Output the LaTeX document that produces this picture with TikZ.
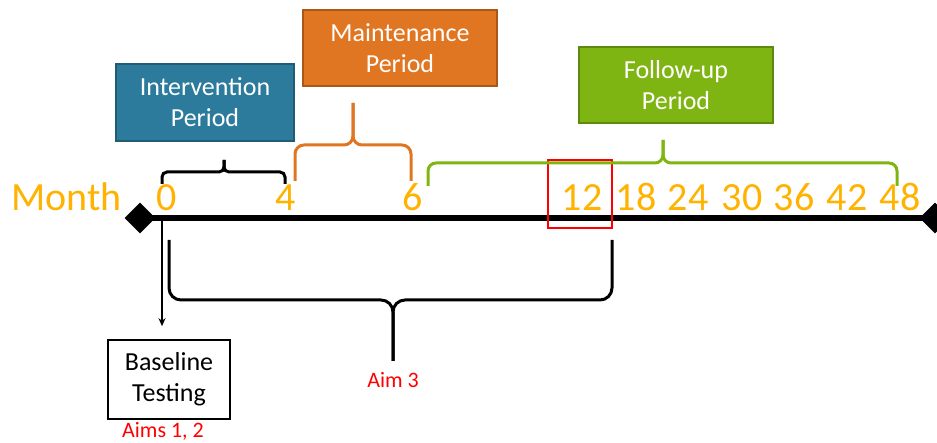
\documentclass[tikz,border=0pt]{standalone}
\usepackage{fontspec}
\setmainfont{Carlito}
\usetikzlibrary{arrows.meta,shapes.geometric}
\definecolor{ivblue}{RGB}{44,123,156}
\definecolor{mtorange}{RGB}{225,118,34}
\definecolor{fugreen}{RGB}{127,181,18}
\definecolor{monthgold}{RGB}{255,178,0}
\definecolor{aimred}{RGB}{255,0,0}
\tikzset{
  periodbox/.style={draw=#1!75!black, fill=#1, text=white, line width=1.2pt,
    align=center, font=\fontsize{26}{31}\selectfont, inner sep=0pt},
  monthnum/.style={text=monthgold, font=\fontsize{40}{44}\selectfont, anchor=base, inner sep=0pt},
  bracepath/.style={line width=3pt, rounded corners=#1},
  aimtext/.style={text=aimred, font=\fontsize{22}{24}\selectfont, anchor=base, inner sep=0pt},
  endmark/.style={diamond, fill=black, minimum size=31pt, inner sep=0pt},
}
\begin{document}
\begin{tikzpicture}[x=1pt,y=-1pt]
\useasboundingbox (0,0) rectangle (937,443);
% boxes
\node[periodbox=ivblue, minimum width=178pt, minimum height=77pt] (interv) at (205,102.5) {Intervention\\Period};
\node[periodbox=mtorange, minimum width=194pt, minimum height=76pt] (maint) at (400,48) {Maintenance\\Period};
\node[periodbox=fugreen, minimum width=194pt, minimum height=76pt] (follow) at (676,85) {Follow-up\\Period};
% timeline
\coordinate (tl) at (140,218);
\coordinate (tr) at (935,218);
\draw[line width=6pt] (tl) -- (tr);
\node[endmark] (dl) at (tl) {};
\node[endmark] (dr) at (tr) {};
% labels
\node[text=monthgold, font=\fontsize{40}{44}\selectfont, anchor=base west, inner sep=0pt] (month) at (11,211) {Month};
\node[monthnum] (m0) at (167,211) {0};
\node[monthnum] (m4) at (286,211) {4};
\node[monthnum] (m6) at (413,211) {6};
\node[monthnum] (m12) at (582,211) {12};
\node[monthnum] (m18) at (636,211) {18};
\node[monthnum] (m24) at (688,211) {24};
\node[monthnum] (m30) at (742,211) {30};
\node[monthnum] (m36) at (794,211) {36};
\node[monthnum] (m42) at (847,211) {42};
\node[monthnum] (m48) at (900,211) {48};
\node[draw=aimred, line width=1.6pt, minimum width=64pt, minimum height=68pt, inner sep=0pt] (hl) at (580,194) {};
% braces
\draw[bracepath=5pt] (162,184) -- (162,172) -- (224,172) -- (224,160);
\draw[bracepath=5pt] (285,184) -- (285,172) -- (224,172) -- (224,160);
\draw[bracepath=9pt, draw=mtorange] (295,181) -- (295,145) -- (353,145) -- (353,103);
\draw[bracepath=9pt, draw=mtorange] (411,181) -- (411,145) -- (353,145) -- (353,103);
\draw[bracepath=8pt, draw=fugreen] (428,186) -- (428,163) -- (663,163) -- (663,140);
\draw[bracepath=8pt, draw=fugreen] (897,186) -- (897,163) -- (663,163) -- (663,140);
\draw[bracepath=12pt] (169,240) -- (169,300) -- (393,300) -- (393,361);
\draw[bracepath=12pt] (612,240) -- (612,300) -- (393,300) -- (393,361);
% baseline
\node[draw=black, line width=1.6pt, minimum width=122pt, minimum height=79pt, align=center,
  font=\fontsize{26}{31}\selectfont, inner sep=0pt] (base) at (169,379.5) {Baseline\\Testing};
\coordinate (a0) at (162,218);
\draw[line width=1.2pt, -{Stealth[length=8pt,width=7pt]}] (a0) -- (a0 |- base.north) [shorten >=13pt];
\node[aimtext] (aim3) at (393,388) {Aim 3};
\node[aimtext] (aim12) at (163,437) {Aims 1, 2};
\end{tikzpicture}
\end{document}
